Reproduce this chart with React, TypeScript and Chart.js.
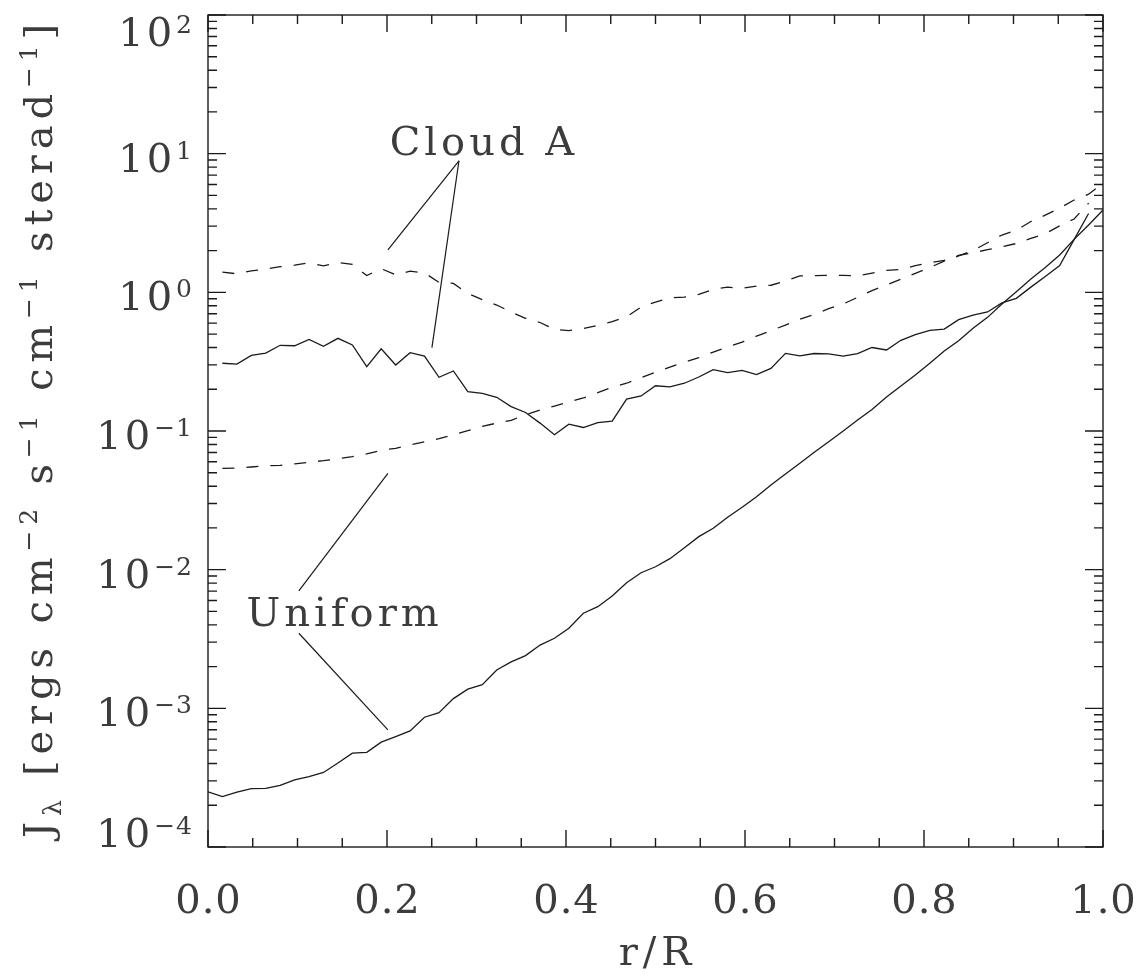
import React, { useEffect, useRef } from "react";
import { Chart, registerables } from "chart.js";

Chart.register(...registerables);

// radial grid r/R (63 points)
const R = [
  0.0, 0.0161, 0.0323, 0.0484, 0.0645, 0.0806, 0.0968, 0.1129, 0.129, 0.1452,
  0.1613, 0.1774, 0.1935, 0.2097, 0.2258, 0.2419, 0.2581, 0.2742, 0.2903, 0.3065,
  0.3226, 0.3387, 0.3548, 0.371, 0.3871, 0.4032, 0.4194, 0.4355, 0.4516, 0.4677,
  0.4839, 0.5, 0.5161, 0.5323, 0.5484, 0.5645, 0.5806, 0.5968, 0.6129, 0.629,
  0.6452, 0.6613, 0.6774, 0.6935, 0.7097, 0.7258, 0.7419, 0.7581, 0.7742, 0.7903,
  0.8065, 0.8226, 0.8387, 0.8548, 0.871, 0.8871, 0.9032, 0.9194, 0.9355, 0.9516,
  0.9677, 0.9839, 1.0,
];

// Cloud A, solid line
const CLOUD_A_SOLID = [
  null, 0.308, 0.304, 0.351, 0.365, 0.415, 0.412, 0.458, 0.408, 0.466,
  0.417, 0.291, 0.392, 0.299, 0.367, 0.347, 0.244, 0.271, 0.192, 0.187,
  0.175, 0.15, 0.136, 0.114, 0.094, 0.112, 0.106, 0.115, 0.118, 0.17,
  0.179, 0.212, 0.208, 0.221, 0.245, 0.277, 0.264, 0.274, 0.255, 0.283,
  0.363, 0.348, 0.362, 0.36, 0.347, 0.361, 0.4, 0.384, 0.451, 0.495,
  0.532, 0.543, 0.636, 0.686, 0.722, 0.839, 0.905, 1.09, 1.3, 1.56,
  2.4, 3.7, null,
];

// Cloud A, dashed line
const CLOUD_A_DASHED = [
  null, 1.4, 1.36, 1.43, 1.47, 1.53, 1.57, 1.63, 1.55, 1.64,
  1.59, 1.32, 1.48, 1.34, 1.42, 1.38, 1.18, 1.16, 0.98, 0.885,
  0.81, 0.72, 0.65, 0.606, 0.54, 0.529, 0.548, 0.578, 0.615, 0.667,
  0.783, 0.85, 0.914, 0.925, 0.967, 1.05, 1.09, 1.07, 1.11, 1.125,
  1.21, 1.315, 1.32, 1.327, 1.327, 1.313, 1.375, 1.44, 1.46, 1.56,
  1.633, 1.7, 1.85, 1.93, 2.03, 2.13, 2.25, 2.45, 2.65, 3.02,
  3.38, 4.4, null,
];

// Uniform, solid line
const UNIFORM_SOLID = [
  2.5e-4, 2.31e-4, 2.49e-4, 2.64e-4, 2.65e-4, 2.78e-4, 3.05e-4, 3.22e-4, 3.45e-4, 4.03e-4,
  4.75e-4, 4.82e-4, 5.7e-4, 6.25e-4, 6.87e-4, 8.63e-4, 9.31e-4, 1.175e-3, 1.374e-3, 1.483e-3,
  1.89e-3, 2.16e-3, 2.4e-3, 2.86e-3, 3.2e-3, 3.78e-3, 4.85e-3, 5.41e-3, 6.46e-3, 8.05e-3,
  9.5e-3, 1.05e-2, 1.2e-2, 1.44e-2, 1.73e-2, 1.99e-2, 2.39e-2, 2.82e-2, 3.36e-2, 4.08e-2,
  4.9e-2, 5.85e-2, 7.02e-2, 8.37e-2, 0.1, 0.12, 0.143, 0.176, 0.211, 0.253,
  0.308, 0.377, 0.448, 0.55, 0.66, 0.824, 1.01, 1.25, 1.51, 1.86,
  2.41, 3.06, 3.92,
];

// Uniform, dashed line
const UNIFORM_DASHED = [
  null, 0.0538, 0.0541, 0.055, 0.056, 0.0566, 0.058, 0.0595, 0.0611, 0.0631,
  0.0653, 0.0683, 0.0726, 0.075, 0.0793, 0.0837, 0.088, 0.094, 0.1005, 0.108,
  0.114, 0.1194, 0.131, 0.1416, 0.1514, 0.1618, 0.173, 0.189, 0.2065, 0.221,
  0.242, 0.265, 0.289, 0.313, 0.338, 0.371, 0.404, 0.438, 0.484, 0.529,
  0.581, 0.639, 0.694, 0.762, 0.824, 0.92, 1.03, 1.13, 1.245, 1.37,
  1.51, 1.68, 1.83, 2.0, 2.28, 2.59, 2.8, 3.24, 3.6, 4.05,
  4.63, 5.1, 6.1,
];

// axes
const X_MAJOR = [0, 0.2, 0.4, 0.6, 0.8, 1.0];
const X_LABELS = ["0.0", "0.2", "0.4", "0.6", "0.8", "1.0"];
const X_MINOR = [0.05, 0.1, 0.15, 0.25, 0.3, 0.35, 0.45, 0.5, 0.55, 0.65, 0.7, 0.75, 0.85, 0.9, 0.95];
const Y_MAJOR = [1e-4, 1e-3, 1e-2, 1e-1, 1, 10, 100];
const Y_EXP = ["\u22124", "\u22123", "\u22122", "\u22121", "0", "1", "2"];
const Y_MINOR_MULT = [2, 3, 4, 5, 6, 7, 8, 9];

const X_TITLE = "r/R";
const Y_TITLE = [
  { t: "J", k: "n" },
  { t: "\u03bb", k: "sub" },
  { t: " [ergs cm", k: "n" },
  { t: "\u22122", k: "sup" },
  { t: " s", k: "n" },
  { t: "\u22121", k: "sup" },
  { t: " cm", k: "n" },
  { t: "\u22121", k: "sup" },
  { t: " sterad", k: "n" },
  { t: "\u22121", k: "sup" },
  { t: "]", k: "n" },
];

// annotations (data coordinates)
const CLOUD_LABEL = { text: "Cloud A", x: 0.203, y: 9.8 };
const CLOUD_LEADERS = [
  [{ x: 0.2804, y: 8.89 }, { x: 0.201, y: 2.02 }],
  [{ x: 0.2804, y: 8.89 }, { x: 0.2502, y: 0.399 }],
];
const UNIFORM_LABEL = { text: "Uniform", x: 0.043, y: 3.91e-3 };
const UNIFORM_LEADERS = [
  [{ x: 0.1015, y: 7.02e-3 }, { x: 0.201, y: 0.0495 }],
  [{ x: 0.1015, y: 3.48e-3 }, { x: 0.201, y: 6.99e-4 }],
];

const FONT_FAMILY = '"DejaVu Serif", "Liberation Serif", serif';
const INK = "#1a1a1a";
const TEXT_INK = "#3c3c3c";

function toPoints(values: (number | null)[]) {
  const pts: { x: number; y: number }[] = [];
  values.forEach((v, i) => {
    if (v !== null && v !== undefined) pts.push({ x: R[i], y: v });
  });
  return pts;
}

const idlPlugin = {
  id: "idlFrame",
  afterDraw(chart: any) {
    const { ctx, chartArea: a, scales } = chart;
    const xs = scales.x;
    const ys = scales.y;
    ctx.save();

    // frame
    ctx.strokeStyle = INK;
    ctx.lineWidth = 1.4;
    ctx.strokeRect(a.left, a.top, a.right - a.left, a.bottom - a.top);

    // ticks (inward, all four sides)
    ctx.beginPath();
    const tickX = (v: number, len: number) => {
      const p = xs.getPixelForValue(v);
      ctx.moveTo(p, a.bottom);
      ctx.lineTo(p, a.bottom - len);
      ctx.moveTo(p, a.top);
      ctx.lineTo(p, a.top + len);
    };
    const tickY = (v: number, len: number) => {
      const p = ys.getPixelForValue(v);
      ctx.moveTo(a.left, p);
      ctx.lineTo(a.left + len, p);
      ctx.moveTo(a.right, p);
      ctx.lineTo(a.right - len, p);
    };
    X_MAJOR.forEach((v) => tickX(v, 17));
    X_MINOR.forEach((v) => tickX(v, 9));
    Y_MAJOR.forEach((v) => tickY(v, 18));
    Y_MAJOR.slice(0, -1).forEach((d) => Y_MINOR_MULT.forEach((m) => tickY(d * m, 9)));
    ctx.stroke();

    ctx.fillStyle = TEXT_INK;
    ctx.textBaseline = "alphabetic";

    // x tick labels
    ctx.font = `40px ${FONT_FAMILY}`;
    ctx.textAlign = "center";
    (ctx as any).letterSpacing = "1px";
    X_MAJOR.forEach((v, i) => {
      const p = xs.getPixelForValue(v);
      ctx.fillText(X_LABELS[i], p + 0.5, a.bottom + 66);
    });
    (ctx as any).letterSpacing = "0px";

    // y tick labels 10^n
    const labelRight = a.left - 15;
    Y_MAJOR.forEach((v, i) => {
      const p = ys.getPixelForValue(v);
      const base = Math.min(Math.max(p + 18, a.top + 31), a.bottom);
      ctx.textAlign = "right";
      ctx.font = `25px ${FONT_FAMILY}`;
      (ctx as any).letterSpacing = "1px";
      const supW = ctx.measureText(Y_EXP[i]).width;
      ctx.fillText(Y_EXP[i], labelRight, base - 13);
      ctx.font = `40px ${FONT_FAMILY}`;
      (ctx as any).letterSpacing = "3px";
      ctx.fillText("10", labelRight - supW - 1, base);
      (ctx as any).letterSpacing = "0px";
    });

    // x title
    ctx.textAlign = "center";
    ctx.font = `40px ${FONT_FAMILY}`;
    (ctx as any).letterSpacing = "5px";
    ctx.fillText(X_TITLE, (a.left + a.right) / 2 + 2, a.bottom + 118);
    (ctx as any).letterSpacing = "0px";

    // y title (rotated, auto-spaced)
    const pieceFont = (k: string) => (k === "n" ? `40px ${FONT_FAMILY}` : `25px ${FONT_FAMILY}`);
    let total = 0;
    let nChars = 0;
    Y_TITLE.forEach((p) => {
      ctx.font = pieceFont(p.k);
      total += ctx.measureText(p.t).width;
      nChars += p.t.length;
    });
    const targetLen = 820;
    const sp = Math.max(0, (targetLen - total) / nChars);
    const cy = (a.top + a.bottom) / 2 - 3;
    const baseX = 52;
    ctx.save();
    ctx.translate(baseX, cy);
    ctx.rotate(-Math.PI / 2);
    ctx.textAlign = "left";
    (ctx as any).letterSpacing = `${sp.toFixed(2)}px`;
    let cx = -(total + sp * nChars) / 2;
    Y_TITLE.forEach((p) => {
      ctx.font = pieceFont(p.k);
      const dy = p.k === "sup" ? -15 : p.k === "sub" ? 9 : 0;
      ctx.fillText(p.t, cx, dy);
      cx += ctx.measureText(p.t).width;
    });
    (ctx as any).letterSpacing = "0px";
    ctx.restore();

    // annotation labels
    ctx.font = `40px ${FONT_FAMILY}`;
    ctx.textAlign = "left";
    (ctx as any).letterSpacing = "4px";
    [CLOUD_LABEL, UNIFORM_LABEL].forEach((l) => {
      ctx.fillText(l.text, xs.getPixelForValue(l.x), ys.getPixelForValue(l.y));
    });
    (ctx as any).letterSpacing = "0px";

    ctx.restore();
  },
};

export default function App() {
  const ref = useRef<HTMLCanvasElement | null>(null);

  useEffect(() => {
    if (!ref.current) return;
    const lineStyle = (dashed: boolean) => ({
      borderColor: INK,
      backgroundColor: INK,
      borderWidth: 1.3,
      borderDash: dashed ? [12, 12] : [],
      pointRadius: 0,
      tension: 0,
      fill: false,
    });
    const leaderStyle = {
      borderColor: INK,
      borderWidth: 1.2,
      pointRadius: 0,
      tension: 0,
      fill: false,
    };
    const chart = new Chart(ref.current, {
      type: "line",
      data: {
        datasets: [
          { label: "Cloud A (solid)", data: toPoints(CLOUD_A_SOLID), ...lineStyle(false) },
          { label: "Cloud A (dashed)", data: toPoints(CLOUD_A_DASHED), ...lineStyle(true) },
          { label: "Uniform (solid)", data: toPoints(UNIFORM_SOLID), ...lineStyle(false) },
          { label: "Uniform (dashed)", data: toPoints(UNIFORM_DASHED), ...lineStyle(true) },
          ...CLOUD_LEADERS.map((seg, i) => ({ label: `cloud-leader-${i}`, data: seg, ...leaderStyle })),
          ...UNIFORM_LEADERS.map((seg, i) => ({ label: `uniform-leader-${i}`, data: seg, ...leaderStyle })),
        ] as any,
      },
      options: {
        animation: false,
        responsive: false,
        maintainAspectRatio: false,
        devicePixelRatio: 1,
        events: [],
        layout: { padding: { left: 208, right: 35, top: 15, bottom: 133 } },
        plugins: {
          legend: { display: false },
          tooltip: { enabled: false },
          title: { display: false },
        },
        scales: {
          x: { type: "linear", min: 0, max: 1, display: false },
          y: { type: "logarithmic", min: 1e-4, max: 100, display: false },
        },
      },
      plugins: [idlPlugin],
    });
    return () => chart.destroy();
  }, []);

  return (
    <div style={{ position: "absolute", left: 0, top: 0, width: 1138, height: 980, background: "#fff" }}>
      <canvas ref={ref} width={1138} height={980} style={{ display: "block", width: 1138, height: 980 }} />
    </div>
  );
}
